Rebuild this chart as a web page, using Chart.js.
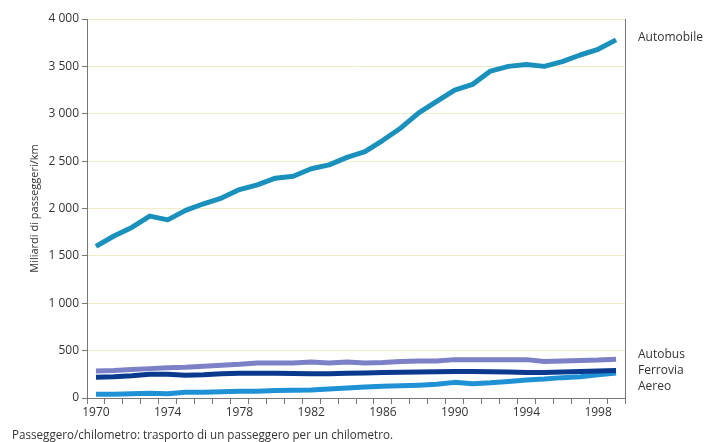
<!DOCTYPE html>
<html><head><meta charset="utf-8">
<script src="https://cdn.jsdelivr.net/npm/chart.js@4/dist/chart.umd.min.js"></script>
<style>html,body{margin:0;padding:0;background:#fff}#wrap{width:705px;height:442px}</style>
</head><body><div id="wrap"><canvas id="c"></canvas></div>
<script>
const years = [1970,1971,1972,1973,1974,1975,1976,1977,1978,1979,1980,1981,1982,1983,1984,1985,1986,1987,1988,1989,1990,1991,1992,1993,1994,1995,1996,1997,1998,1999];
const automobile = [1600,1710,1800,1920,1880,1980,2050,2110,2200,2250,2320,2340,2420,2460,2540,2600,2720,2850,3010,3130,3250,3310,3450,3500,3520,3500,3550,3620,3680,3780];
const autobus = [285,290,300,310,320,325,335,345,355,370,370,370,380,370,380,370,375,385,390,390,405,405,405,405,405,385,390,395,400,410];
const ferrovia = [220,225,235,250,250,240,245,255,260,260,260,258,255,255,260,265,270,272,275,278,280,280,278,275,270,270,275,280,285,290];
const aereo = [40,40,45,50,45,60,62,65,70,72,78,82,85,95,105,115,125,128,135,145,165,150,160,175,190,200,215,225,245,265];
const seriesNames = ['Automobile','Autobus','Ferrovia','Aereo'];
const yTicks = [0,500,1000,1500,2000,2500,3000,3500,4000];
const yTitle = 'Miliardi di passeggeri/km';
const caption = 'Passeggero/chilometro: trasporto di un passeggero per un chilometro.';

const FONT = 'Open Sans';
const fmt = v => v >= 1000 ? Math.floor(v/1000) + ' ' + String(v % 1000).padStart(3,'0') : String(v);

const extras = {
  id: 'extras',
  afterDraw(chart) {
    const ctx = chart.ctx, a = chart.chartArea;
    ctx.save();
    ctx.strokeStyle = '#777'; ctx.lineWidth = 1;
    ctx.beginPath(); ctx.moveTo(a.right + 0.5, a.top); ctx.lineTo(a.right + 0.5, a.bottom); ctx.stroke();
    ctx.fillStyle = '#333';
    ctx.font = '12px "' + FONT + '"';
    ctx.textBaseline = 'middle'; ctx.textAlign = 'left';
    const lx = a.right + 13;
    ctx.fillText(seriesNames[0], lx, 38);
    ctx.fillText(seriesNames[1], lx, 355);
    ctx.fillText(seriesNames[2], lx, 371);
    ctx.fillText(seriesNames[3], lx, 387);
    ctx.font = '12px "' + FONT + '"';
    ctx.fillText(caption, 12, 436, 381);
    ctx.restore();
  }
};

new Chart(document.getElementById('c'), {
  type: 'line',
  data: {
    labels: years,
    datasets: [
      {label: seriesNames[1], data: autobus, borderColor: '#7c80c6', borderWidth: 5},
      {label: seriesNames[2], data: ferrovia, borderColor: '#0a3a8e', borderWidth: 5},
      {label: seriesNames[3], data: aereo, borderColor: '#1f92d6', borderWidth: 5},
      {label: seriesNames[0], data: automobile, borderColor: '#1a90bd', borderWidth: 5}
    ].map(d => Object.assign(d, {pointRadius: 0, tension: 0, fill: false, borderJoinStyle: 'round', borderCapStyle: 'butt'}))
  },
  options: {
    responsive: true, maintainAspectRatio: false, animation: false,
    layout: {padding: {left: 0, right: 80, top: 19, bottom: 0}},
    plugins: {legend: {display: false}, tooltip: {enabled: false}},
    scales: {
      x: {
        type: 'category', offset: true,
        grid: {offset: true, drawOnChartArea: false, drawTicks: true, tickLength: 6, color: '#777'},
        border: {color: '#777'},
        ticks: {autoSkip: false, maxRotation: 0, padding: 1, color: '#333', font: {family: FONT, size: 12},
          callback: function(v, i) { const y = years[i]; return (y - 1970) % 4 === 0 ? String(y) : ''; }},
        afterFit: s => { s.height = 44; }
      },
      y: {
        min: 0, max: 4000,
        afterBuildTicks: s => { s.ticks = yTicks.map(v => ({value: v})); },
        grid: {color: '#f1edc6', tickColor: '#777', tickLength: 5, drawTicks: true},
        border: {color: '#777'},
        ticks: {color: '#333', padding: 3, font: {family: FONT, size: 12}, callback: v => fmt(v)},
        title: {display: true, text: yTitle, color: '#333', font: {family: FONT, size: 11}, padding: {top: 28, bottom: 0}},
        afterFit: s => { s.width = 87; }
      }
    }
  },
  plugins: [extras]
});
</script></body></html>
